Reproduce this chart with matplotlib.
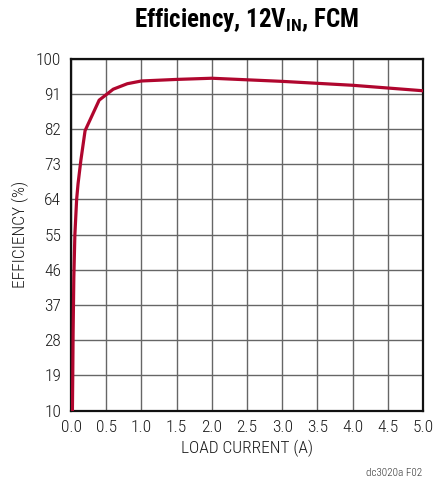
import matplotlib
matplotlib.use("Agg")
import matplotlib.pyplot as plt

# --------------------------------------------------------------------------- #
# Data
# --------------------------------------------------------------------------- #
load_current = [0.02, 0.025, 0.03, 0.04, 0.055, 0.08, 0.1, 0.14, 0.2,
                0.4, 0.6, 0.8, 1.0, 1.5, 2.0, 3.0, 3.5, 4.0, 4.5, 5.0]
efficiency = [10, 19, 30, 44, 55, 64, 68, 74, 81.6,
              89.4, 92.2, 93.6, 94.3, 94.7, 95.0, 94.2, 93.7, 93.2, 92.5, 91.8]

x_ticks = [0.0, 0.5, 1.0, 1.5, 2.0, 2.5, 3.0, 3.5, 4.0, 4.5, 5.0]
y_ticks = [10, 19, 28, 37, 46, 55, 64, 73, 82, 91, 100]

plt.rcParams["font.family"] = ["Roboto Condensed", "Liberation Sans", "DejaVu Sans"]

fig = plt.figure(figsize=(4.34, 4.83), dpi=100)
ax = fig.add_axes([0.1636, 0.1497, 0.8111, 0.7288])

ax.plot(load_current, efficiency, color="#B0062E", linewidth=2.3,
        solid_joinstyle="round", zorder=3)

ax.set_xlim(0, 5)
ax.set_ylim(10, 100)
ax.set_xticks(x_ticks)
ax.set_yticks(y_ticks)
ax.set_xticklabels([f"{v:.1f}" for v in x_ticks], fontweight="light")
ax.set_yticklabels([str(v) for v in y_ticks], fontweight="light")
ax.tick_params(length=0, labelsize=12.5, pad=7, colors="#1a1a1a")

ax.grid(True, color="#666666", linewidth=1.0)
ax.set_axisbelow(True)
for spine in ax.spines.values():
    spine.set_linewidth(1.6)
    spine.set_color("#111111")

ax.set_xlabel("LOAD CURRENT (A)", fontsize=12.5, labelpad=3,
              color="#1a1a1a", fontweight="light")
ax.set_ylabel("EFFICIENCY (%)", fontsize=12.5, labelpad=5,
              color="#1a1a1a", fontweight="light")

fig.text(0.569, 0.958, r"Efficiency, 12V$_{\mathregular{IN}}$, FCM",
         ha="center", va="center", fontsize=18, fontweight="bold")
fig.text(0.974, 0.021, "dc3020a F02", ha="right", va="center",
         fontsize=8, color="#333333", fontweight="light")

fig.savefig("out.png", dpi=100)
plt.close(fig)
